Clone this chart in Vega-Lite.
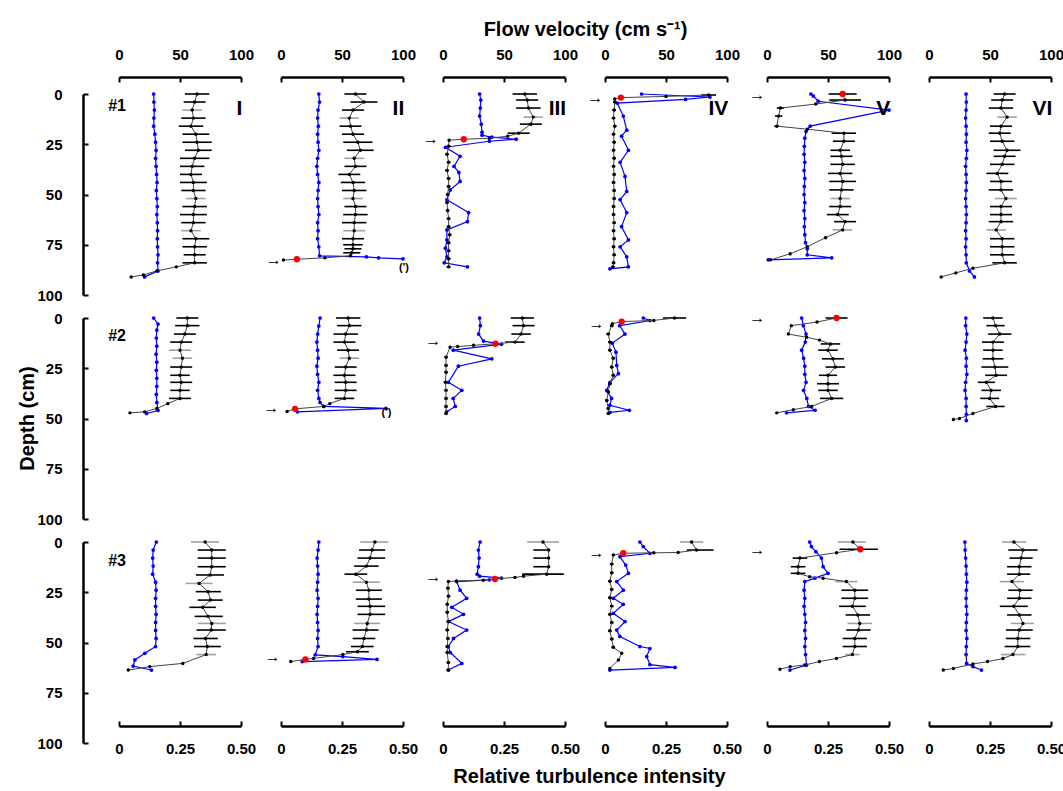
{
"$schema":"https://vega.github.io/schema/vega-lite/v6.json",
"background":"white",
"padding":{"left":17,"top":19,"right":5,"bottom":5},
"config":{"view":{"stroke":null},"font":"Liberation Sans",
 "axis":{"domainColor":"#000","domainWidth":2.5,"tickColor":"#000","tickWidth":2,"tickSize":-5,"labelFont":"Liberation Sans Narrow, Liberation Sans","labelFontWeight":"bold","labelFontSize":15,"labelColor":"#000","grid":false,"titleFont":"Liberation Sans","titleFontWeight":"bold","titleFontSize":20,"titleColor":"#000","labelFlush":false,"labelOverlap":false}},
"datasets":{
"vel":[
{"p":"11","d":0,"v":64,"lo":54,"hi":74},{"p":"11","d":4,"v":62,"lo":53,"hi":71},{"p":"11","d":8,"v":60,"lo":52,"hi":68,"g":1},{"p":"11","d":12,"v":61,"lo":51,"hi":71},{"p":"11","d":16,"v":59,"lo":49,"hi":69},{"p":"11","d":20,"v":63,"lo":52,"hi":74},{"p":"11","d":24,"v":64,"lo":52,"hi":76},{"p":"11","d":28,"v":65,"lo":54,"hi":76},{"p":"11","d":32,"v":62,"lo":50,"hi":74},{"p":"11","d":36,"v":60,"lo":50,"hi":70},{"p":"11","d":40,"v":59,"lo":50,"hi":68},{"p":"11","d":44,"v":61,"lo":50,"hi":72},{"p":"11","d":48,"v":61,"lo":51,"hi":71},{"p":"11","d":52,"v":63,"lo":55,"hi":71,"g":1},{"p":"11","d":56,"v":62,"lo":52,"hi":72},{"p":"11","d":60,"v":61,"lo":50,"hi":72},{"p":"11","d":64,"v":61,"lo":51,"hi":71},{"p":"11","d":68,"v":59,"lo":51,"hi":67,"g":1},{"p":"11","d":72,"v":63,"lo":52,"hi":74},{"p":"11","d":76,"v":62,"lo":52,"hi":72},{"p":"11","d":80,"v":62,"lo":53,"hi":71},{"p":"11","d":84,"v":62,"lo":52,"hi":72},{"p":"11","d":86,"v":47},{"p":"11","d":88,"v":31},{"p":"11","d":90,"v":20},{"p":"11","d":91,"v":10},
{"p":"12","d":0,"v":61,"lo":52,"hi":70},{"p":"12","d":4,"v":68,"lo":57,"hi":79},{"p":"12","d":8,"v":59,"lo":50,"hi":68},{"p":"12","d":12,"v":56,"lo":48,"hi":64,"g":1},{"p":"12","d":16,"v":57,"lo":48,"hi":66},{"p":"12","d":20,"v":59,"lo":50,"hi":68},{"p":"12","d":24,"v":63,"lo":51,"hi":75},{"p":"12","d":28,"v":65,"lo":54,"hi":76},{"p":"12","d":32,"v":60,"lo":52,"hi":68,"g":1},{"p":"12","d":36,"v":61,"lo":52,"hi":70},{"p":"12","d":40,"v":56,"lo":47,"hi":65},{"p":"12","d":44,"v":59,"lo":49,"hi":69},{"p":"12","d":48,"v":60,"lo":50,"hi":70},{"p":"12","d":52,"v":59,"lo":51,"hi":67,"g":1},{"p":"12","d":56,"v":61,"lo":52,"hi":70},{"p":"12","d":60,"v":61,"lo":51,"hi":71},{"p":"12","d":64,"v":60,"lo":50,"hi":70},{"p":"12","d":68,"v":60,"lo":51,"hi":69,"g":1},{"p":"12","d":72,"v":59,"lo":50,"hi":68},{"p":"12","d":75,"v":59,"lo":51,"hi":67},{"p":"12","d":77,"v":59,"lo":52,"hi":66},{"p":"12","d":79,"v":58,"lo":51,"hi":65},{"p":"12","d":80.5,"v":57},{"p":"12","d":81.5,"v":36},{"p":"12","d":82.2,"v":13,"m":"r"},{"p":"12","d":82.6,"v":2},
{"p":"13","d":0,"v":67,"lo":57,"hi":77},{"p":"13","d":3,"v":69,"lo":60,"hi":78},{"p":"13","d":7,"v":70,"lo":60,"hi":80},{"p":"13","d":11.5,"v":74,"lo":66,"hi":82,"g":1},{"p":"13","d":15,"v":72,"lo":63,"hi":81},{"p":"13","d":19.5,"v":62,"lo":53,"hi":71},{"p":"13","d":21,"v":53},{"p":"13","d":22,"v":38},{"p":"13","d":22.5,"v":17,"m":"r"},{"p":"13","d":23,"v":5},{"p":"13","d":26,"v":4.6,"lo":3,"hi":6.2},{"p":"13","d":30,"v":3.3,"lo":1.8,"hi":4.8},{"p":"13","d":34,"v":4.6,"lo":3,"hi":6.2},{"p":"13","d":38,"v":3.3,"lo":1.8,"hi":4.8},{"p":"13","d":42,"v":4.6,"lo":3,"hi":6.2},{"p":"13","d":46,"v":4.6,"lo":3,"hi":6.2},{"p":"13","d":50,"v":3.8,"lo":2.3,"hi":5.3},{"p":"13","d":54,"v":3.3,"lo":1.8,"hi":4.8},{"p":"13","d":58,"v":3.8,"lo":2.3,"hi":5.3},{"p":"13","d":62,"v":4.6,"lo":3,"hi":6.2},{"p":"13","d":66,"v":4.6,"lo":3,"hi":6.2},{"p":"13","d":70,"v":5.5,"lo":4,"hi":7},{"p":"13","d":74,"v":4.6,"lo":3,"hi":6.2},{"p":"13","d":78,"v":4.6,"lo":3,"hi":6.2},{"p":"13","d":82,"v":4.6,"lo":3,"hi":6.2},{"p":"13","d":86,"v":4.6,"lo":3,"hi":6.2},
{"p":"14","d":0.5,"v":85,"lo":79,"hi":91},{"p":"14","d":1.2,"v":50},{"p":"14","d":1.8,"v":13,"m":"r"},{"p":"14","d":2.5,"v":8},{"p":"14","d":4,"v":8,"lo":6.5,"hi":9.5},{"p":"14","d":8,"v":7.5,"lo":6,"hi":9},{"p":"14","d":12,"v":7,"lo":5.5,"hi":8.5},{"p":"14","d":16,"v":8,"lo":6.5,"hi":9.5},{"p":"14","d":20,"v":7,"lo":5.5,"hi":8.5},{"p":"14","d":24,"v":7.5,"lo":6,"hi":9},{"p":"14","d":28,"v":7,"lo":5.5,"hi":8.5},{"p":"14","d":32,"v":7.5,"lo":6,"hi":9},{"p":"14","d":36,"v":7,"lo":5.5,"hi":8.5},{"p":"14","d":40,"v":7.5,"lo":6,"hi":9},{"p":"14","d":44,"v":7,"lo":5.5,"hi":8.5},{"p":"14","d":48,"v":7.5,"lo":6,"hi":9},{"p":"14","d":52,"v":7.5,"lo":6,"hi":9},{"p":"14","d":56,"v":7,"lo":5.5,"hi":8.5},{"p":"14","d":60,"v":7,"lo":5.5,"hi":8.5},{"p":"14","d":64,"v":7.5,"lo":6,"hi":9},{"p":"14","d":68,"v":7,"lo":5.5,"hi":8.5},{"p":"14","d":72,"v":7.5,"lo":6,"hi":9},{"p":"14","d":76,"v":7,"lo":5.5,"hi":8.5},{"p":"14","d":80,"v":7.5,"lo":6,"hi":9},{"p":"14","d":84,"v":7,"lo":5.5,"hi":8.5},{"p":"14","d":86,"v":6.5,"lo":5,"hi":8},
{"p":"15","d":0,"v":62,"lo":50.5,"hi":73.5,"m":"r"},{"p":"15","d":3,"v":64,"lo":51,"hi":77},{"p":"15","d":5,"v":40},{"p":"15","d":7,"v":11,"lo":8,"hi":14},{"p":"15","d":11,"v":9.5,"lo":6.5,"hi":12.5},{"p":"15","d":16,"v":8,"lo":6,"hi":10},{"p":"15","d":17.5,"v":33},{"p":"15","d":19.5,"v":63,"lo":53,"hi":73},{"p":"15","d":23.5,"v":63,"lo":54,"hi":72},{"p":"15","d":28,"v":60,"lo":52,"hi":68},{"p":"15","d":31,"v":61,"lo":52,"hi":70},{"p":"15","d":35,"v":62,"lo":52,"hi":72},{"p":"15","d":39.5,"v":60,"lo":50,"hi":70},{"p":"15","d":43.5,"v":62,"lo":51,"hi":73},{"p":"15","d":47.7,"v":61,"lo":51,"hi":71},{"p":"15","d":52,"v":60,"lo":52,"hi":68,"g":1},{"p":"15","d":56,"v":60,"lo":51,"hi":69},{"p":"15","d":60,"v":58,"lo":49,"hi":67},{"p":"15","d":63.5,"v":64,"lo":55,"hi":73},{"p":"15","d":67.6,"v":62,"lo":54,"hi":70,"g":1},{"p":"15","d":71.5,"v":48},{"p":"15","d":76,"v":33},{"p":"15","d":79.5,"v":19},{"p":"15","d":82.5,"v":3},
{"p":"16","d":0,"v":62,"lo":53,"hi":71},{"p":"16","d":3,"v":60,"lo":51,"hi":69},{"p":"16","d":7,"v":59,"lo":49,"hi":69},{"p":"16","d":11.5,"v":64,"lo":56,"hi":72,"g":1},{"p":"16","d":16,"v":59,"lo":50,"hi":68},{"p":"16","d":19.5,"v":58,"lo":49,"hi":67},{"p":"16","d":23.5,"v":60,"lo":50,"hi":70},{"p":"16","d":28,"v":64,"lo":53,"hi":75},{"p":"16","d":31,"v":62,"lo":53,"hi":71},{"p":"16","d":35,"v":60,"lo":50,"hi":70},{"p":"16","d":39.5,"v":56,"lo":47,"hi":65},{"p":"16","d":43.5,"v":59,"lo":50,"hi":68},{"p":"16","d":47.7,"v":59,"lo":49,"hi":69},{"p":"16","d":52,"v":63,"lo":54,"hi":72,"g":1},{"p":"16","d":56,"v":59,"lo":50,"hi":68},{"p":"16","d":60,"v":59,"lo":50,"hi":68},{"p":"16","d":63.5,"v":59,"lo":49,"hi":69},{"p":"16","d":67.6,"v":55,"lo":47,"hi":63,"g":1},{"p":"16","d":72,"v":60,"lo":50,"hi":70},{"p":"16","d":76,"v":60,"lo":50,"hi":70},{"p":"16","d":80,"v":60,"lo":50,"hi":70},{"p":"16","d":84,"v":62,"lo":52,"hi":72},{"p":"16","d":86.7,"v":36},{"p":"16","d":89,"v":22},{"p":"16","d":91,"v":10},
{"p":"21","d":0,"v":56,"lo":47,"hi":65},{"p":"21","d":3.8,"v":56,"lo":46,"hi":66},{"p":"21","d":8,"v":54,"lo":45,"hi":63},{"p":"21","d":12,"v":51,"lo":42,"hi":60},{"p":"21","d":16,"v":50,"lo":41,"hi":59,"g":1},{"p":"21","d":20,"v":52,"lo":44,"hi":60,"g":1},{"p":"21","d":24.4,"v":51,"lo":42,"hi":60},{"p":"21","d":28.5,"v":50,"lo":42,"hi":58},{"p":"21","d":32,"v":51,"lo":42,"hi":60},{"p":"21","d":36,"v":50,"lo":42,"hi":58},{"p":"21","d":40,"v":50,"lo":41,"hi":59},{"p":"21","d":42.6,"v":40},{"p":"21","d":45,"v":31},{"p":"21","d":46.7,"v":21},{"p":"21","d":47.2,"v":9},
{"p":"22","d":0,"v":55,"lo":45,"hi":65},{"p":"22","d":3.8,"v":56,"lo":46,"hi":66},{"p":"22","d":8,"v":53,"lo":43,"hi":63},{"p":"22","d":12,"v":52,"lo":43,"hi":61},{"p":"22","d":16,"v":55,"lo":46,"hi":64},{"p":"22","d":20,"v":56,"lo":48,"hi":64,"g":1},{"p":"22","d":24.4,"v":53,"lo":44,"hi":62},{"p":"22","d":28.5,"v":52,"lo":43,"hi":61},{"p":"22","d":32,"v":53,"lo":44,"hi":62},{"p":"22","d":36,"v":53,"lo":44,"hi":62},{"p":"22","d":40,"v":52,"lo":44,"hi":60},{"p":"22","d":42.6,"v":40},{"p":"22","d":44,"v":35},{"p":"22","d":45.2,"v":11.5,"m":"r"},{"p":"22","d":46.5,"v":5},
{"p":"23","d":0,"v":65,"lo":55.5,"hi":74.5},{"p":"23","d":3.8,"v":66,"lo":57,"hi":75},{"p":"23","d":8,"v":64,"lo":56,"hi":72},{"p":"23","d":12,"v":59,"lo":51,"hi":67},{"p":"23","d":12.8,"v":43,"m":"r"},{"p":"23","d":13.6,"v":25},{"p":"23","d":14.2,"v":12},{"p":"23","d":14.5,"v":5.8},{"p":"23","d":19.5,"v":2.5,"lo":1,"hi":4},{"p":"23","d":23.6,"v":2.5,"lo":1,"hi":4},{"p":"23","d":27,"v":2.5,"lo":1,"hi":4},{"p":"23","d":32,"v":2,"lo":0.5,"hi":3.5},{"p":"23","d":36,"v":2.5,"lo":1,"hi":4},{"p":"23","d":40,"v":2.5,"lo":1,"hi":4},{"p":"23","d":44,"v":2.5,"lo":1,"hi":4},{"p":"23","d":47.5,"v":2.5,"lo":1,"hi":4},
{"p":"24","d":0,"v":57,"lo":47.5,"hi":66.5},{"p":"24","d":1.2,"v":40},{"p":"24","d":1.8,"v":13.7,"m":"r"},{"p":"24","d":2.8,"v":6},{"p":"24","d":3.8,"v":5.5,"lo":4,"hi":7},{"p":"24","d":8,"v":2.7,"lo":1.2,"hi":4.2},{"p":"24","d":12,"v":4,"lo":2.5,"hi":5.5},{"p":"24","d":16,"v":4,"lo":2.5,"hi":5.5},{"p":"24","d":20,"v":6.8,"lo":5.3,"hi":8.3},{"p":"24","d":24.4,"v":5.5,"lo":4,"hi":7},{"p":"24","d":28.5,"v":6.8,"lo":5.3,"hi":8.3},{"p":"24","d":32.7,"v":4,"lo":2.5,"hi":5.5},{"p":"24","d":36.8,"v":2.7,"lo":1.2,"hi":4.2},{"p":"24","d":41,"v":1.4,"lo":0,"hi":2.9},{"p":"24","d":45,"v":2.7,"lo":1.2,"hi":4.2},{"p":"24","d":47.5,"v":2.7,"lo":1.2,"hi":4.2},
{"p":"25","d":0,"v":57,"lo":48,"hi":66,"m":"r"},{"p":"25","d":2,"v":41},{"p":"25","d":3.8,"v":20},{"p":"25","d":8,"v":17.5},{"p":"25","d":9.6,"v":32.5},{"p":"25","d":11,"v":43},{"p":"25","d":12.9,"v":52,"lo":44,"hi":60},{"p":"25","d":16,"v":50,"lo":42,"hi":58},{"p":"25","d":20.3,"v":54,"lo":45,"hi":63},{"p":"25","d":24.4,"v":56,"lo":48,"hi":64},{"p":"25","d":28.5,"v":50,"lo":42.5,"hi":57.5},{"p":"25","d":32.7,"v":50,"lo":41,"hi":59},{"p":"25","d":36,"v":50,"lo":42,"hi":58},{"p":"25","d":40,"v":53,"lo":43.5,"hi":62.5},{"p":"25","d":44,"v":36.6},{"p":"25","d":45.6,"v":21.6},{"p":"25","d":47.2,"v":8},
{"p":"26","d":0,"v":52.4,"lo":44.4,"hi":60.4},{"p":"26","d":3.8,"v":54.6,"lo":47,"hi":62},{"p":"26","d":8,"v":58,"lo":48.5,"hi":67.5},{"p":"26","d":12,"v":52.4,"lo":43.4,"hi":61.4},{"p":"26","d":16,"v":52.4,"lo":44.4,"hi":60.4},{"p":"26","d":20.3,"v":52.4,"lo":44,"hi":61},{"p":"26","d":24.4,"v":54,"lo":43,"hi":65},{"p":"26","d":28.5,"v":55,"lo":46,"hi":64},{"p":"26","d":32,"v":47,"lo":40,"hi":54},{"p":"26","d":36,"v":51,"lo":43,"hi":59},{"p":"26","d":40,"v":49.7,"lo":42,"hi":57.5},{"p":"26","d":44,"v":54.6,"lo":47,"hi":62},{"p":"26","d":47.5,"v":36},{"p":"26","d":50,"v":25},{"p":"26","d":50.5,"v":20},
{"p":"31","d":0,"v":70.6,"lo":59,"hi":82,"g":1},{"p":"31","d":4,"v":76,"lo":64.5,"hi":87.5},{"p":"31","d":8,"v":76,"lo":64.5,"hi":87.5},{"p":"31","d":12.3,"v":76,"lo":64.5,"hi":87.5},{"p":"31","d":16.4,"v":74.7,"lo":63,"hi":86},{"p":"31","d":20.6,"v":65.6,"lo":54.5,"hi":76.7,"g":1},{"p":"31","d":24.7,"v":73,"lo":63,"hi":83.5},{"p":"31","d":28.9,"v":75,"lo":64.5,"hi":85},{"p":"31","d":32.5,"v":68.6,"lo":57.7,"hi":79.4},{"p":"31","d":37,"v":73,"lo":62,"hi":85},{"p":"31","d":40.5,"v":76,"lo":64.5,"hi":87.5,"g":1},{"p":"31","d":43.8,"v":75.6,"lo":63.5,"hi":87.5},{"p":"31","d":48,"v":71,"lo":61,"hi":81},{"p":"31","d":52,"v":72.4,"lo":61.5,"hi":83.5},{"p":"31","d":56,"v":71.5,"lo":63.5,"hi":79.5,"g":1},{"p":"31","d":60.4,"v":52.3},{"p":"31","d":62,"v":25.2},{"p":"31","d":63.7,"v":7.6},
{"p":"32","d":0,"v":77,"lo":65,"hi":88,"g":1},{"p":"32","d":4,"v":74.7,"lo":64,"hi":85.4},{"p":"32","d":8,"v":73,"lo":62.7,"hi":85.4},{"p":"32","d":12,"v":70,"lo":60,"hi":80},{"p":"32","d":16,"v":61.3,"lo":52,"hi":70.7},{"p":"32","d":20,"v":70,"lo":58.7,"hi":81,"g":1},{"p":"32","d":24,"v":72,"lo":61.3,"hi":82.7},{"p":"32","d":28.4,"v":72,"lo":61.3,"hi":82.7},{"p":"32","d":32,"v":73,"lo":62.7,"hi":85.4},{"p":"32","d":36,"v":73,"lo":62.7,"hi":85.4},{"p":"32","d":40.5,"v":70.7,"lo":60,"hi":81.3,"g":1},{"p":"32","d":43.8,"v":70,"lo":58.7,"hi":80},{"p":"32","d":48,"v":68,"lo":58.7,"hi":77.3},{"p":"32","d":52,"v":66.7,"lo":57.3,"hi":76},{"p":"32","d":54.6,"v":62.7,"lo":53.3,"hi":72},{"p":"32","d":56,"v":50.7},{"p":"32","d":57.9,"v":26.7},{"p":"32","d":58.4,"v":20,"m":"r"},{"p":"32","d":59.5,"v":8},
{"p":"33","d":0,"v":82,"lo":69,"hi":95,"g":1},{"p":"33","d":4,"v":86.6,"lo":74,"hi":86.6},{"p":"33","d":8,"v":86.6,"lo":74,"hi":86.6},{"p":"33","d":12.3,"v":86.6,"lo":74,"hi":86.6},{"p":"33","d":16,"v":85,"lo":65,"hi":99},{"p":"33","d":17,"v":66},{"p":"33","d":17.6,"v":59},{"p":"33","d":18.4,"v":42.6,"m":"r"},{"p":"33","d":19,"v":33},{"p":"33","d":19.4,"v":11},{"p":"33","d":19.7,"v":4.4},{"p":"33","d":23,"v":4,"lo":2.5,"hi":5.5},{"p":"33","d":27,"v":4.5,"lo":3,"hi":6},{"p":"33","d":31,"v":3.5,"lo":2,"hi":5},{"p":"33","d":35,"v":3.5,"lo":2,"hi":5},{"p":"33","d":39.6,"v":4.4,"lo":2.9,"hi":5.9},{"p":"33","d":43.8,"v":3.5,"lo":2,"hi":5},{"p":"33","d":48,"v":4,"lo":2.5,"hi":5.5},{"p":"33","d":52,"v":3.5,"lo":2,"hi":5},{"p":"33","d":55,"v":3.5,"lo":2,"hi":5},{"p":"33","d":60,"v":4.4,"lo":2.9,"hi":5.9},{"p":"33","d":63.7,"v":4.4,"lo":2.9,"hi":5.9},
{"p":"34","d":0,"v":71,"lo":61.5,"hi":80.5,"g":1},{"p":"34","d":4,"v":75,"lo":67,"hi":89},{"p":"34","d":5.2,"v":60},{"p":"34","d":5.4,"v":40},{"p":"34","d":5.6,"v":15,"m":"r"},{"p":"34","d":6.5,"v":6.8},{"p":"34","d":11,"v":5.5,"lo":4,"hi":7},{"p":"34","d":15.3,"v":5.5,"lo":4,"hi":7},{"p":"34","d":19.5,"v":4,"lo":2.5,"hi":5.5},{"p":"34","d":23.6,"v":5.5,"lo":4,"hi":7},{"p":"34","d":27.7,"v":4,"lo":2.5,"hi":5.5},{"p":"34","d":31.9,"v":5.5,"lo":4,"hi":7},{"p":"34","d":36,"v":4,"lo":2.5,"hi":5.5},{"p":"34","d":40,"v":5.5,"lo":4,"hi":7},{"p":"34","d":44.2,"v":4,"lo":2.5,"hi":5.5},{"p":"34","d":48.3,"v":5.5,"lo":4,"hi":7},{"p":"34","d":52.4,"v":6.8,"lo":5.3,"hi":8.3},{"p":"34","d":55.4,"v":13.7},{"p":"34","d":58.7,"v":11},{"p":"34","d":62.9,"v":4},
{"p":"35","d":0,"v":70.4,"lo":58,"hi":81,"g":1},{"p":"35","d":3.6,"v":76.4,"lo":59.5,"hi":91,"m":"r"},{"p":"35","d":5.3,"v":57},{"p":"35","d":8,"v":27,"lo":21,"hi":33},{"p":"35","d":12.3,"v":25.5,"lo":19.5,"hi":31.5},{"p":"35","d":15.6,"v":25.5,"lo":19.5,"hi":31.5},{"p":"35","d":17.3,"v":35},{"p":"35","d":18,"v":46},{"p":"35","d":19.7,"v":65,"lo":56,"hi":74,"g":1},{"p":"35","d":24,"v":72,"lo":61,"hi":83},{"p":"35","d":28,"v":72,"lo":61,"hi":83},{"p":"35","d":32,"v":70,"lo":59,"hi":81},{"p":"35","d":36.3,"v":74.5,"lo":64.5,"hi":84.5},{"p":"35","d":40.5,"v":76,"lo":66,"hi":86,"g":1},{"p":"35","d":43.8,"v":75,"lo":65,"hi":85},{"p":"35","d":48,"v":72,"lo":62,"hi":82},{"p":"35","d":52,"v":72,"lo":62,"hi":82},{"p":"35","d":56,"v":70,"lo":64,"hi":76,"g":1},{"p":"35","d":57.9,"v":57},{"p":"35","d":59.5,"v":43},{"p":"35","d":61.2,"v":31},{"p":"35","d":62,"v":19},{"p":"35","d":63.3,"v":10.6},
{"p":"36","d":0,"v":69.6,"lo":59.6,"hi":79.6,"g":1},{"p":"36","d":4,"v":77,"lo":65,"hi":89},{"p":"36","d":8,"v":75.5,"lo":66,"hi":85},{"p":"36","d":12.3,"v":74,"lo":64,"hi":84},{"p":"36","d":16,"v":74,"lo":64,"hi":83},{"p":"36","d":19.7,"v":68,"lo":58,"hi":78,"g":1},{"p":"36","d":24,"v":74.5,"lo":65,"hi":85},{"p":"36","d":28,"v":74,"lo":64,"hi":84},{"p":"36","d":32,"v":69.5,"lo":58,"hi":81},{"p":"36","d":36.3,"v":74,"lo":64,"hi":84},{"p":"36","d":40.5,"v":77,"lo":67,"hi":86,"g":1},{"p":"36","d":43.8,"v":74,"lo":63,"hi":85},{"p":"36","d":48,"v":72.8,"lo":63,"hi":83},{"p":"36","d":52,"v":72.8,"lo":62,"hi":83},{"p":"36","d":56,"v":68.8,"lo":59,"hi":79,"g":1},{"p":"36","d":58,"v":60.6},{"p":"36","d":59.5,"v":48},{"p":"36","d":60.7,"v":36},{"p":"36","d":62.9,"v":20},{"p":"36","d":63.7,"v":11.7}
],
"tur":[
{"p":"11","d":0,"t":0.142},{"p":"11","d":4,"t":0.143},{"p":"11","d":8,"t":0.145},{"p":"11","d":12,"t":0.143},{"p":"11","d":16,"t":0.142},{"p":"11","d":20,"t":0.147},{"p":"11","d":24,"t":0.15},{"p":"11","d":28,"t":0.152},{"p":"11","d":32,"t":0.15},{"p":"11","d":36,"t":0.152},{"p":"11","d":40,"t":0.154},{"p":"11","d":44,"t":0.156},{"p":"11","d":48,"t":0.153},{"p":"11","d":52,"t":0.155},{"p":"11","d":56,"t":0.157},{"p":"11","d":60,"t":0.155},{"p":"11","d":64,"t":0.157},{"p":"11","d":68,"t":0.158},{"p":"11","d":72,"t":0.157},{"p":"11","d":76,"t":0.158},{"p":"11","d":80,"t":0.16},{"p":"11","d":84,"t":0.158},{"p":"11","d":88,"t":0.16},{"p":"11","d":91,"t":0.105},
{"p":"12","d":0,"t":0.155},{"p":"12","d":4,"t":0.158},{"p":"12","d":8,"t":0.152},{"p":"12","d":12,"t":0.15},{"p":"12","d":16,"t":0.153},{"p":"12","d":20,"t":0.15},{"p":"12","d":24,"t":0.152},{"p":"12","d":28,"t":0.155},{"p":"12","d":32,"t":0.15},{"p":"12","d":36,"t":0.147},{"p":"12","d":40,"t":0.15},{"p":"12","d":44,"t":0.155},{"p":"12","d":48,"t":0.152},{"p":"12","d":52,"t":0.15},{"p":"12","d":56,"t":0.152},{"p":"12","d":60,"t":0.155},{"p":"12","d":64,"t":0.15},{"p":"12","d":68,"t":0.152},{"p":"12","d":72,"t":0.15},{"p":"12","d":76,"t":0.155},{"p":"12","d":80.5,"t":0.158},{"p":"12","d":81,"t":0.35},{"p":"12","d":81.5,"t":0.4},{"p":"12","d":82,"t":0.5},
{"p":"13","d":0,"t":0.15},{"p":"13","d":3,"t":0.155},{"p":"13","d":7,"t":0.153},{"p":"13","d":11,"t":0.15},{"p":"13","d":15,"t":0.157},{"p":"13","d":19,"t":0.16},{"p":"13","d":20.5,"t":0.16},{"p":"13","d":21.5,"t":0.2},{"p":"13","d":22.5,"t":0.3},{"p":"13","d":23.5,"t":0.19},{"p":"13","d":26.5,"t":0.01},{"p":"13","d":31,"t":0.07},{"p":"13","d":36,"t":0.045},{"p":"13","d":39,"t":0.065},{"p":"13","d":43.5,"t":0.07},{"p":"13","d":47.7,"t":0.03},{"p":"13","d":52.6,"t":0.016},{"p":"13","d":59,"t":0.105},{"p":"13","d":63.5,"t":0.1},{"p":"13","d":67.6,"t":0.016},{"p":"13","d":72.6,"t":0.016},{"p":"13","d":76.7,"t":0.01},{"p":"13","d":81,"t":0.016},{"p":"13","d":84,"t":0.005},{"p":"13","d":86,"t":0.1},
{"p":"14","d":0,"t":0.15},{"p":"14","d":1.5,"t":0.43},{"p":"14","d":2.7,"t":0.33},{"p":"14","d":4.5,"t":0.05},{"p":"14","d":11,"t":0.075},{"p":"14","d":18,"t":0.089},{"p":"14","d":21,"t":0.068},{"p":"14","d":28,"t":0.096},{"p":"14","d":34,"t":0.062},{"p":"14","d":41,"t":0.082},{"p":"14","d":48.5,"t":0.089},{"p":"14","d":52.6,"t":0.062},{"p":"14","d":59,"t":0.089},{"p":"14","d":66,"t":0.068},{"p":"14","d":72.6,"t":0.096},{"p":"14","d":76,"t":0.062},{"p":"14","d":81,"t":0.089},{"p":"14","d":86,"t":0.096},{"p":"14","d":87,"t":0.02},
{"p":"15","d":0,"t":0.18},{"p":"15","d":1,"t":0.19},{"p":"15","d":3.6,"t":0.21},{"p":"15","d":8,"t":0.5},{"p":"15","d":16,"t":0.177},{"p":"15","d":18.7,"t":0.16},{"p":"15","d":22,"t":0.155},{"p":"15","d":26,"t":0.153},{"p":"15","d":30,"t":0.152},{"p":"15","d":34,"t":0.155},{"p":"15","d":38,"t":0.152},{"p":"15","d":42,"t":0.155},{"p":"15","d":46,"t":0.153},{"p":"15","d":50,"t":0.152},{"p":"15","d":54,"t":0.155},{"p":"15","d":58,"t":0.152},{"p":"15","d":62,"t":0.155},{"p":"15","d":66,"t":0.153},{"p":"15","d":70,"t":0.155},{"p":"15","d":74,"t":0.158},{"p":"15","d":77,"t":0.165},{"p":"15","d":80,"t":0.165},{"p":"15","d":81.5,"t":0.265},{"p":"15","d":82.5,"t":0.005},
{"p":"16","d":0,"t":0.152},{"p":"16","d":4,"t":0.153},{"p":"16","d":8,"t":0.152},{"p":"16","d":12,"t":0.15},{"p":"16","d":16,"t":0.152},{"p":"16","d":20,"t":0.153},{"p":"16","d":24,"t":0.152},{"p":"16","d":28,"t":0.155},{"p":"16","d":32,"t":0.153},{"p":"16","d":36,"t":0.15},{"p":"16","d":40,"t":0.152},{"p":"16","d":44,"t":0.153},{"p":"16","d":48,"t":0.152},{"p":"16","d":52,"t":0.15},{"p":"16","d":56,"t":0.152},{"p":"16","d":60,"t":0.153},{"p":"16","d":64,"t":0.152},{"p":"16","d":68,"t":0.15},{"p":"16","d":72,"t":0.152},{"p":"16","d":76,"t":0.15},{"p":"16","d":80,"t":0.152},{"p":"16","d":84,"t":0.153},{"p":"16","d":88,"t":0.166},{"p":"16","d":91,"t":0.186},
{"p":"21","d":0,"t":0.142},{"p":"21","d":3,"t":0.16},{"p":"21","d":6,"t":0.155},{"p":"21","d":10,"t":0.153},{"p":"21","d":14,"t":0.155},{"p":"21","d":18,"t":0.152},{"p":"21","d":22,"t":0.155},{"p":"21","d":26,"t":0.153},{"p":"21","d":30,"t":0.155},{"p":"21","d":34,"t":0.155},{"p":"21","d":38,"t":0.153},{"p":"21","d":42,"t":0.155},{"p":"21","d":46,"t":0.16},{"p":"21","d":47.5,"t":0.113},
{"p":"22","d":0,"t":0.16},{"p":"22","d":4,"t":0.155},{"p":"22","d":8,"t":0.15},{"p":"22","d":12,"t":0.147},{"p":"22","d":16,"t":0.15},{"p":"22","d":20,"t":0.152},{"p":"22","d":24,"t":0.147},{"p":"22","d":28,"t":0.15},{"p":"22","d":32,"t":0.155},{"p":"22","d":36,"t":0.15},{"p":"22","d":40,"t":0.155},{"p":"22","d":42,"t":0.16},{"p":"22","d":44,"t":0.175},{"p":"22","d":45,"t":0.43},{"p":"22","d":46.7,"t":0.067},
{"p":"23","d":0,"t":0.15},{"p":"23","d":3.8,"t":0.153},{"p":"23","d":8,"t":0.146},{"p":"23","d":11.5,"t":0.166},{"p":"23","d":13,"t":0.24},{"p":"23","d":16,"t":0.042},{"p":"23","d":20.3,"t":0.2},{"p":"23","d":24,"t":0.063},{"p":"23","d":32,"t":0.022},{"p":"23","d":36,"t":0.077},{"p":"23","d":40,"t":0.042},{"p":"23","d":44,"t":0.05},{"p":"23","d":46.7,"t":0.015},
{"p":"24","d":0,"t":0.157},{"p":"24","d":1.3,"t":0.184},{"p":"24","d":3.8,"t":0.06},{"p":"24","d":8,"t":0.082},{"p":"24","d":12.5,"t":0.03},{"p":"24","d":17,"t":0.045},{"p":"24","d":23.6,"t":0.048},{"p":"24","d":27.7,"t":0.055},{"p":"24","d":32,"t":0.02},{"p":"24","d":36,"t":0.007},{"p":"24","d":40,"t":0.027},{"p":"24","d":43.4,"t":0.02},{"p":"24","d":45.9,"t":0.1},{"p":"24","d":47,"t":0.02},
{"p":"25","d":0,"t":0.142},{"p":"25","d":3.8,"t":0.149},{"p":"25","d":8,"t":0.16},{"p":"25","d":12,"t":0.157},{"p":"25","d":16,"t":0.142},{"p":"25","d":20,"t":0.15},{"p":"25","d":24,"t":0.155},{"p":"25","d":28,"t":0.155},{"p":"25","d":32,"t":0.16},{"p":"25","d":36,"t":0.15},{"p":"25","d":40,"t":0.163},{"p":"25","d":44,"t":0.17},{"p":"25","d":45.9,"t":0.197},{"p":"25","d":47.2,"t":0.08},
{"p":"26","d":0,"t":0.151},{"p":"26","d":3.8,"t":0.15},{"p":"26","d":8,"t":0.155},{"p":"26","d":12,"t":0.152},{"p":"26","d":16,"t":0.148},{"p":"26","d":20,"t":0.153},{"p":"26","d":24,"t":0.152},{"p":"26","d":28,"t":0.155},{"p":"26","d":32,"t":0.15},{"p":"26","d":36,"t":0.148},{"p":"26","d":40,"t":0.152},{"p":"26","d":44,"t":0.152},{"p":"26","d":48,"t":0.153},{"p":"26","d":51,"t":0.153},
{"p":"31","d":0,"t":0.153},{"p":"31","d":4,"t":0.14},{"p":"31","d":8,"t":0.138},{"p":"31","d":12,"t":0.14},{"p":"31","d":16,"t":0.138},{"p":"31","d":20,"t":0.15},{"p":"31","d":24,"t":0.152},{"p":"31","d":28,"t":0.15},{"p":"31","d":32,"t":0.15},{"p":"31","d":36,"t":0.152},{"p":"31","d":40,"t":0.15},{"p":"31","d":44,"t":0.15},{"p":"31","d":48,"t":0.152},{"p":"31","d":52,"t":0.15},{"p":"31","d":55.4,"t":0.106},{"p":"31","d":58.7,"t":0.065},{"p":"31","d":61.7,"t":0.058},{"p":"31","d":63.7,"t":0.133},
{"p":"32","d":0,"t":0.155},{"p":"32","d":4,"t":0.152},{"p":"32","d":8,"t":0.148},{"p":"32","d":12,"t":0.15},{"p":"32","d":16,"t":0.152},{"p":"32","d":20,"t":0.15},{"p":"32","d":24,"t":0.148},{"p":"32","d":28,"t":0.152},{"p":"32","d":32,"t":0.15},{"p":"32","d":36,"t":0.148},{"p":"32","d":40,"t":0.15},{"p":"32","d":44,"t":0.152},{"p":"32","d":48,"t":0.15},{"p":"32","d":52,"t":0.152},{"p":"32","d":56.2,"t":0.14},{"p":"32","d":57,"t":0.253},{"p":"32","d":58.4,"t":0.393},{"p":"32","d":59.5,"t":0.087},
{"p":"33","d":0,"t":0.152},{"p":"33","d":4,"t":0.145},{"p":"33","d":8,"t":0.148},{"p":"33","d":12.3,"t":0.145},{"p":"33","d":16,"t":0.14},{"p":"33","d":17,"t":0.15},{"p":"33","d":18,"t":0.24},{"p":"33","d":18.8,"t":0.19},{"p":"33","d":19.7,"t":0.056},{"p":"33","d":24,"t":0.07},{"p":"33","d":28,"t":0.097},{"p":"33","d":32.5,"t":0.036},{"p":"33","d":36,"t":0.084},{"p":"33","d":39.6,"t":0.022},{"p":"33","d":43.8,"t":0.097},{"p":"33","d":48,"t":0.043},{"p":"33","d":52,"t":0.022},{"p":"33","d":55,"t":0.03},{"p":"33","d":60.4,"t":0.077},{"p":"33","d":63.7,"t":0.022},
{"p":"34","d":0,"t":0.143},{"p":"34","d":2.3,"t":0.157},{"p":"34","d":5.6,"t":0.184},{"p":"34","d":7.3,"t":0.061},{"p":"34","d":11.5,"t":0.085},{"p":"34","d":15.6,"t":0.096},{"p":"34","d":19.7,"t":0.048},{"p":"34","d":24,"t":0.075},{"p":"34","d":28,"t":0.034},{"p":"34","d":31,"t":0.075},{"p":"34","d":35.5,"t":0.034},{"p":"34","d":39.6,"t":0.082},{"p":"34","d":43.8,"t":0.048},{"p":"34","d":47,"t":0.061},{"p":"34","d":52,"t":0.143},{"p":"34","d":53,"t":0.184},{"p":"34","d":57,"t":0.171},{"p":"34","d":61,"t":0.184},{"p":"34","d":62.4,"t":0.287},{"p":"34","d":63.7,"t":0.02},
{"p":"35","d":0,"t":0.175},{"p":"35","d":2.3,"t":0.182},{"p":"35","d":4.8,"t":0.2},{"p":"35","d":8,"t":0.223},{"p":"35","d":12.3,"t":0.23},{"p":"35","d":15.6,"t":0.25},{"p":"35","d":18,"t":0.196},{"p":"35","d":19.7,"t":0.155},{"p":"35","d":24,"t":0.152},{"p":"35","d":28,"t":0.155},{"p":"35","d":32,"t":0.152},{"p":"35","d":36,"t":0.155},{"p":"35","d":40,"t":0.158},{"p":"35","d":44,"t":0.155},{"p":"35","d":48,"t":0.158},{"p":"35","d":52,"t":0.155},{"p":"35","d":56,"t":0.158},{"p":"35","d":61.2,"t":0.162},{"p":"35","d":63.7,"t":0.094},
{"p":"36","d":0,"t":0.147},{"p":"36","d":4,"t":0.148},{"p":"36","d":8,"t":0.15},{"p":"36","d":12,"t":0.152},{"p":"36","d":16,"t":0.153},{"p":"36","d":20,"t":0.155},{"p":"36","d":24,"t":0.153},{"p":"36","d":28,"t":0.152},{"p":"36","d":32,"t":0.153},{"p":"36","d":36,"t":0.155},{"p":"36","d":40,"t":0.153},{"p":"36","d":44,"t":0.152},{"p":"36","d":48,"t":0.155},{"p":"36","d":52,"t":0.153},{"p":"36","d":56,"t":0.152},{"p":"36","d":60.4,"t":0.154},{"p":"36","d":62,"t":0.18},{"p":"36","d":63.7,"t":0.215}
],
"arr":[
{"p":"12","d":82.5,"v":-6},{"p":"13","d":22.4,"v":-10},{"p":"14","d":2,"v":-8},{"p":"15","d":0.5,"v":-8},
{"p":"22","d":45,"v":-8},{"p":"23","d":11.6,"v":-8},{"p":"24","d":2.8,"v":-7},{"p":"25","d":0,"v":-8},
{"p":"32","d":57,"v":-7},{"p":"33","d":17.4,"v":-8},{"p":"34","d":5.5,"v":-7},{"p":"35","d":4,"v":-8}
],
"lab":[
{"p":"11","d":8.5,"v":-1.6,"s":"#1","k":"h"},{"p":"21","d":11.5,"v":-1.6,"s":"#2","k":"h"},{"p":"31","d":12,"v":-1.6,"s":"#3","k":"h"},
{"p":"11","d":10.4,"v":101,"s":"I","k":"n"},{"p":"12","d":10.4,"v":101,"s":"II","k":"n"},{"p":"13","d":10.4,"v":101,"s":"III","k":"n"},{"p":"14","d":10.4,"v":101,"s":"IV","k":"n"},{"p":"15","d":10.4,"v":101,"s":"V","k":"n"},{"p":"16","d":10.4,"v":101,"s":"VI","k":"n"},
{"p":"12","d":86.5,"v":100.8,"s":"(')","k":"q"},{"p":"22","d":47.5,"v":86.5,"s":"(')","k":"q"}
]
},
"columns":6,
"spacing":{"row":23,"column":40},
"bounds":"flush",
"concat":[
{"width":122,"height":201,"encoding":{"y":{"field":"d","type":"quantitative","scale":{"domain":[0,100],"reverse":true,"nice":false},"axis":{"values":[0,25,50,75,100],"offset":36,"labelPadding":26,"title":null}}},
 "layer":[
  {"data":{"name":"tur"},"transform":[{"filter":"datum.p=='11'"}],"mark":{"type":"line","color":"#0000ff","strokeWidth":1.2,"point":{"filled":true,"size":14,"color":"#0000ff","opacity":1}},"encoding":{"x":{"field":"t","type":"quantitative","scale":{"domain":[0,0.5],"nice":false},"axis":null},"order":{"field":"d","type":"quantitative"}}},
  {"data":{"name":"vel"},"transform":[{"filter":"datum.p=='11' && isValid(datum.lo)"}],"mark":{"type":"rule","strokeWidth":1.6},"encoding":{"x":{"field":"lo","type":"quantitative","scale":{"domain":[0,100],"nice":false},"axis":null},"x2":{"field":"hi"},"color":{"condition":{"test":"datum.g==1","value":"#a0a0a0"},"value":"#000000"}}},
  {"data":{"name":"vel"},"transform":[{"filter":"datum.p=='11'"}],"mark":{"type":"line","color":"#444444","strokeWidth":1},"encoding":{"x":{"field":"v","type":"quantitative","scale":{"domain":[0,100],"nice":false},"axis":{"orient":"top","values":[0,50,100],"offset":17,"labelPadding":20,"title":null}},"order":{"field":"d","type":"quantitative"}}},
  {"data":{"name":"vel"},"transform":[{"filter":"datum.p=='11'"}],"mark":{"type":"point","filled":true,"opacity":1},"encoding":{"x":{"field":"v","type":"quantitative","scale":{"domain":[0,100],"nice":false},"axis":null},"color":{"condition":{"test":"datum.m=='r'","value":"#ff0000"},"value":"#000000"},"size":{"condition":{"test":"datum.m=='r'","value":40},"value":12}}},
  {"data":{"name":"lab"},"transform":[{"filter":"datum.p=='11' && datum.k=='h'"}],"mark":{"type":"text","align":"center","baseline":"alphabetic","fontSize":16,"fontWeight":"bold","color":"#000"},"encoding":{"x":{"field":"v","type":"quantitative","scale":{"domain":[0,100],"nice":false},"axis":null},"text":{"field":"s"}}},
  {"data":{"name":"lab"},"transform":[{"filter":"datum.p=='11' && datum.k=='n'"}],"mark":{"type":"text","align":"right","baseline":"alphabetic","fontSize":21,"fontWeight":"bold","color":"#000"},"encoding":{"x":{"field":"v","type":"quantitative","scale":{"domain":[0,100],"nice":false},"axis":null},"text":{"field":"s"}}}
 ],"resolve":{"scale":{"x":"independent"}}},
{"width":122,"height":201,"encoding":{"y":{"field":"d","type":"quantitative","scale":{"domain":[0,100],"reverse":true,"nice":false},"axis":null}},
 "layer":[
  {"data":{"name":"tur"},"transform":[{"filter":"datum.p=='12'"}],"mark":{"type":"line","color":"#0000ff","strokeWidth":1.2,"point":{"filled":true,"size":14,"color":"#0000ff","opacity":1}},"encoding":{"x":{"field":"t","type":"quantitative","scale":{"domain":[0,0.5],"nice":false},"axis":null},"order":{"field":"d","type":"quantitative"}}},
  {"data":{"name":"vel"},"transform":[{"filter":"datum.p=='12' && isValid(datum.lo)"}],"mark":{"type":"rule","strokeWidth":1.6},"encoding":{"x":{"field":"lo","type":"quantitative","scale":{"domain":[0,100],"nice":false},"axis":null},"x2":{"field":"hi"},"color":{"condition":{"test":"datum.g==1","value":"#a0a0a0"},"value":"#000000"}}},
  {"data":{"name":"vel"},"transform":[{"filter":"datum.p=='12'"}],"mark":{"type":"line","color":"#444444","strokeWidth":1},"encoding":{"x":{"field":"v","type":"quantitative","scale":{"domain":[0,100],"nice":false},"axis":{"orient":"top","values":[0,50,100],"offset":17,"labelPadding":20,"title":null}},"order":{"field":"d","type":"quantitative"}}},
  {"data":{"name":"vel"},"transform":[{"filter":"datum.p=='12'"}],"mark":{"type":"point","filled":true,"opacity":1},"encoding":{"x":{"field":"v","type":"quantitative","scale":{"domain":[0,100],"nice":false},"axis":null},"color":{"condition":{"test":"datum.m=='r'","value":"#ff0000"},"value":"#000000"},"size":{"condition":{"test":"datum.m=='r'","value":40},"value":12}}},
  {"data":{"name":"arr"},"transform":[{"filter":"datum.p=='12'"}],"mark":{"type":"text","text":"→","fontSize":16,"fontWeight":"bold","color":"#000"},"encoding":{"x":{"field":"v","type":"quantitative","scale":{"domain":[0,100],"nice":false},"axis":null}}},
  {"data":{"name":"lab"},"transform":[{"filter":"datum.p=='12' && datum.k=='q'"}],"mark":{"type":"text","align":"center","baseline":"middle","fontSize":11,"fontWeight":"bold","color":"#000"},"encoding":{"x":{"field":"v","type":"quantitative","scale":{"domain":[0,100],"nice":false},"axis":null},"text":{"field":"s"}}},
  {"data":{"name":"lab"},"transform":[{"filter":"datum.p=='12' && datum.k=='n'"}],"mark":{"type":"text","align":"right","baseline":"alphabetic","fontSize":21,"fontWeight":"bold","color":"#000"},"encoding":{"x":{"field":"v","type":"quantitative","scale":{"domain":[0,100],"nice":false},"axis":null},"text":{"field":"s"}}}
 ],"resolve":{"scale":{"x":"independent"}}},
{"width":122,"height":201,"encoding":{"y":{"field":"d","type":"quantitative","scale":{"domain":[0,100],"reverse":true,"nice":false},"axis":null}},
 "layer":[
  {"data":{"name":"tur"},"transform":[{"filter":"datum.p=='13'"}],"mark":{"type":"line","color":"#0000ff","strokeWidth":1.2,"point":{"filled":true,"size":14,"color":"#0000ff","opacity":1}},"encoding":{"x":{"field":"t","type":"quantitative","scale":{"domain":[0,0.5],"nice":false},"axis":null},"order":{"field":"d","type":"quantitative"}}},
  {"data":{"name":"vel"},"transform":[{"filter":"datum.p=='13' && isValid(datum.lo)"}],"mark":{"type":"rule","strokeWidth":1.6},"encoding":{"x":{"field":"lo","type":"quantitative","scale":{"domain":[0,100],"nice":false},"axis":null},"x2":{"field":"hi"},"color":{"condition":{"test":"datum.g==1","value":"#a0a0a0"},"value":"#000000"}}},
  {"data":{"name":"vel"},"transform":[{"filter":"datum.p=='13'"}],"mark":{"type":"line","color":"#444444","strokeWidth":1},"encoding":{"x":{"field":"v","type":"quantitative","scale":{"domain":[0,100],"nice":false},"axis":{"orient":"top","values":[0,50,100],"offset":17,"labelPadding":20,"title":"Flow velocity (cm s⁻¹)","titleX":142,"titleY":-42,"titleBaseline":"alphabetic","titleAlign":"center"}},"order":{"field":"d","type":"quantitative"}}},
  {"data":{"name":"vel"},"transform":[{"filter":"datum.p=='13'"}],"mark":{"type":"point","filled":true,"opacity":1},"encoding":{"x":{"field":"v","type":"quantitative","scale":{"domain":[0,100],"nice":false},"axis":null},"color":{"condition":{"test":"datum.m=='r'","value":"#ff0000"},"value":"#000000"},"size":{"condition":{"test":"datum.m=='r'","value":40},"value":12}}},
  {"data":{"name":"arr"},"transform":[{"filter":"datum.p=='13'"}],"mark":{"type":"text","text":"→","fontSize":16,"fontWeight":"bold","color":"#000"},"encoding":{"x":{"field":"v","type":"quantitative","scale":{"domain":[0,100],"nice":false},"axis":null}}},
  {"data":{"name":"lab"},"transform":[{"filter":"datum.p=='13' && datum.k=='n'"}],"mark":{"type":"text","align":"right","baseline":"alphabetic","fontSize":21,"fontWeight":"bold","color":"#000"},"encoding":{"x":{"field":"v","type":"quantitative","scale":{"domain":[0,100],"nice":false},"axis":null},"text":{"field":"s"}}}
 ],"resolve":{"scale":{"x":"independent"}}},
{"width":122,"height":201,"encoding":{"y":{"field":"d","type":"quantitative","scale":{"domain":[0,100],"reverse":true,"nice":false},"axis":null}},
 "layer":[
  {"data":{"name":"tur"},"transform":[{"filter":"datum.p=='14'"}],"mark":{"type":"line","color":"#0000ff","strokeWidth":1.2,"point":{"filled":true,"size":14,"color":"#0000ff","opacity":1}},"encoding":{"x":{"field":"t","type":"quantitative","scale":{"domain":[0,0.5],"nice":false},"axis":null},"order":{"field":"d","type":"quantitative"}}},
  {"data":{"name":"vel"},"transform":[{"filter":"datum.p=='14' && isValid(datum.lo)"}],"mark":{"type":"rule","strokeWidth":1.6},"encoding":{"x":{"field":"lo","type":"quantitative","scale":{"domain":[0,100],"nice":false},"axis":null},"x2":{"field":"hi"},"color":{"condition":{"test":"datum.g==1","value":"#a0a0a0"},"value":"#000000"}}},
  {"data":{"name":"vel"},"transform":[{"filter":"datum.p=='14'"}],"mark":{"type":"line","color":"#444444","strokeWidth":1},"encoding":{"x":{"field":"v","type":"quantitative","scale":{"domain":[0,100],"nice":false},"axis":{"orient":"top","values":[0,50,100],"offset":17,"labelPadding":20,"title":null}},"order":{"field":"d","type":"quantitative"}}},
  {"data":{"name":"vel"},"transform":[{"filter":"datum.p=='14'"}],"mark":{"type":"point","filled":true,"opacity":1},"encoding":{"x":{"field":"v","type":"quantitative","scale":{"domain":[0,100],"nice":false},"axis":null},"color":{"condition":{"test":"datum.m=='r'","value":"#ff0000"},"value":"#000000"},"size":{"condition":{"test":"datum.m=='r'","value":40},"value":12}}},
  {"data":{"name":"arr"},"transform":[{"filter":"datum.p=='14'"}],"mark":{"type":"text","text":"→","fontSize":16,"fontWeight":"bold","color":"#000"},"encoding":{"x":{"field":"v","type":"quantitative","scale":{"domain":[0,100],"nice":false},"axis":null}}},
  {"data":{"name":"lab"},"transform":[{"filter":"datum.p=='14' && datum.k=='n'"}],"mark":{"type":"text","align":"right","baseline":"alphabetic","fontSize":21,"fontWeight":"bold","color":"#000"},"encoding":{"x":{"field":"v","type":"quantitative","scale":{"domain":[0,100],"nice":false},"axis":null},"text":{"field":"s"}}}
 ],"resolve":{"scale":{"x":"independent"}}},
{"width":122,"height":201,"encoding":{"y":{"field":"d","type":"quantitative","scale":{"domain":[0,100],"reverse":true,"nice":false},"axis":null}},
 "layer":[
  {"data":{"name":"tur"},"transform":[{"filter":"datum.p=='15'"}],"mark":{"type":"line","color":"#0000ff","strokeWidth":1.2,"point":{"filled":true,"size":14,"color":"#0000ff","opacity":1}},"encoding":{"x":{"field":"t","type":"quantitative","scale":{"domain":[0,0.5],"nice":false},"axis":null},"order":{"field":"d","type":"quantitative"}}},
  {"data":{"name":"vel"},"transform":[{"filter":"datum.p=='15' && isValid(datum.lo)"}],"mark":{"type":"rule","strokeWidth":1.6},"encoding":{"x":{"field":"lo","type":"quantitative","scale":{"domain":[0,100],"nice":false},"axis":null},"x2":{"field":"hi"},"color":{"condition":{"test":"datum.g==1","value":"#a0a0a0"},"value":"#000000"}}},
  {"data":{"name":"vel"},"transform":[{"filter":"datum.p=='15'"}],"mark":{"type":"line","color":"#444444","strokeWidth":1},"encoding":{"x":{"field":"v","type":"quantitative","scale":{"domain":[0,100],"nice":false},"axis":{"orient":"top","values":[0,50,100],"offset":17,"labelPadding":20,"title":null}},"order":{"field":"d","type":"quantitative"}}},
  {"data":{"name":"vel"},"transform":[{"filter":"datum.p=='15'"}],"mark":{"type":"point","filled":true,"opacity":1},"encoding":{"x":{"field":"v","type":"quantitative","scale":{"domain":[0,100],"nice":false},"axis":null},"color":{"condition":{"test":"datum.m=='r'","value":"#ff0000"},"value":"#000000"},"size":{"condition":{"test":"datum.m=='r'","value":40},"value":12}}},
  {"data":{"name":"arr"},"transform":[{"filter":"datum.p=='15'"}],"mark":{"type":"text","text":"→","fontSize":16,"fontWeight":"bold","color":"#000"},"encoding":{"x":{"field":"v","type":"quantitative","scale":{"domain":[0,100],"nice":false},"axis":null}}},
  {"data":{"name":"lab"},"transform":[{"filter":"datum.p=='15' && datum.k=='n'"}],"mark":{"type":"text","align":"right","baseline":"alphabetic","fontSize":21,"fontWeight":"bold","color":"#000"},"encoding":{"x":{"field":"v","type":"quantitative","scale":{"domain":[0,100],"nice":false},"axis":null},"text":{"field":"s"}}}
 ],"resolve":{"scale":{"x":"independent"}}},
{"width":122,"height":201,"encoding":{"y":{"field":"d","type":"quantitative","scale":{"domain":[0,100],"reverse":true,"nice":false},"axis":null}},
 "layer":[
  {"data":{"name":"tur"},"transform":[{"filter":"datum.p=='16'"}],"mark":{"type":"line","color":"#0000ff","strokeWidth":1.2,"point":{"filled":true,"size":14,"color":"#0000ff","opacity":1}},"encoding":{"x":{"field":"t","type":"quantitative","scale":{"domain":[0,0.5],"nice":false},"axis":null},"order":{"field":"d","type":"quantitative"}}},
  {"data":{"name":"vel"},"transform":[{"filter":"datum.p=='16' && isValid(datum.lo)"}],"mark":{"type":"rule","strokeWidth":1.6},"encoding":{"x":{"field":"lo","type":"quantitative","scale":{"domain":[0,100],"nice":false},"axis":null},"x2":{"field":"hi"},"color":{"condition":{"test":"datum.g==1","value":"#a0a0a0"},"value":"#000000"}}},
  {"data":{"name":"vel"},"transform":[{"filter":"datum.p=='16'"}],"mark":{"type":"line","color":"#444444","strokeWidth":1},"encoding":{"x":{"field":"v","type":"quantitative","scale":{"domain":[0,100],"nice":false},"axis":{"orient":"top","values":[0,50,100],"offset":17,"labelPadding":20,"title":null}},"order":{"field":"d","type":"quantitative"}}},
  {"data":{"name":"vel"},"transform":[{"filter":"datum.p=='16'"}],"mark":{"type":"point","filled":true,"opacity":1},"encoding":{"x":{"field":"v","type":"quantitative","scale":{"domain":[0,100],"nice":false},"axis":null},"color":{"condition":{"test":"datum.m=='r'","value":"#ff0000"},"value":"#000000"},"size":{"condition":{"test":"datum.m=='r'","value":40},"value":12}}},
  {"data":{"name":"lab"},"transform":[{"filter":"datum.p=='16' && datum.k=='n'"}],"mark":{"type":"text","align":"right","baseline":"alphabetic","fontSize":21,"fontWeight":"bold","color":"#000"},"encoding":{"x":{"field":"v","type":"quantitative","scale":{"domain":[0,100],"nice":false},"axis":null},"text":{"field":"s"}}}
 ],"resolve":{"scale":{"x":"independent"}}},
{"width":122,"height":201,"encoding":{"y":{"field":"d","type":"quantitative","scale":{"domain":[0,100],"reverse":true,"nice":false},"axis":{"values":[0,25,50,75,100],"offset":36,"labelPadding":26,"title":"Depth (cm)","titleX":-50,"titleY":100,"titleAngle":-90,"titleBaseline":"alphabetic","titleAlign":"center"}}},
 "layer":[
  {"data":{"name":"tur"},"transform":[{"filter":"datum.p=='21'"}],"mark":{"type":"line","color":"#0000ff","strokeWidth":1.2,"point":{"filled":true,"size":14,"color":"#0000ff","opacity":1}},"encoding":{"x":{"field":"t","type":"quantitative","scale":{"domain":[0,0.5],"nice":false},"axis":null},"order":{"field":"d","type":"quantitative"}}},
  {"data":{"name":"vel"},"transform":[{"filter":"datum.p=='21' && isValid(datum.lo)"}],"mark":{"type":"rule","strokeWidth":1.6},"encoding":{"x":{"field":"lo","type":"quantitative","scale":{"domain":[0,100],"nice":false},"axis":null},"x2":{"field":"hi"},"color":{"condition":{"test":"datum.g==1","value":"#a0a0a0"},"value":"#000000"}}},
  {"data":{"name":"vel"},"transform":[{"filter":"datum.p=='21'"}],"mark":{"type":"line","color":"#444444","strokeWidth":1},"encoding":{"x":{"field":"v","type":"quantitative","scale":{"domain":[0,100],"nice":false},"axis":null},"order":{"field":"d","type":"quantitative"}}},
  {"data":{"name":"vel"},"transform":[{"filter":"datum.p=='21'"}],"mark":{"type":"point","filled":true,"opacity":1},"encoding":{"x":{"field":"v","type":"quantitative","scale":{"domain":[0,100],"nice":false},"axis":null},"color":{"condition":{"test":"datum.m=='r'","value":"#ff0000"},"value":"#000000"},"size":{"condition":{"test":"datum.m=='r'","value":40},"value":12}}},
  {"data":{"name":"lab"},"transform":[{"filter":"datum.p=='21' && datum.k=='h'"}],"mark":{"type":"text","align":"center","baseline":"alphabetic","fontSize":16,"fontWeight":"bold","color":"#000"},"encoding":{"x":{"field":"v","type":"quantitative","scale":{"domain":[0,100],"nice":false},"axis":null},"text":{"field":"s"}}}
 ],"resolve":{"scale":{"x":"independent"}}},
{"width":122,"height":201,"encoding":{"y":{"field":"d","type":"quantitative","scale":{"domain":[0,100],"reverse":true,"nice":false},"axis":null}},
 "layer":[
  {"data":{"name":"tur"},"transform":[{"filter":"datum.p=='22'"}],"mark":{"type":"line","color":"#0000ff","strokeWidth":1.2,"point":{"filled":true,"size":14,"color":"#0000ff","opacity":1}},"encoding":{"x":{"field":"t","type":"quantitative","scale":{"domain":[0,0.5],"nice":false},"axis":null},"order":{"field":"d","type":"quantitative"}}},
  {"data":{"name":"vel"},"transform":[{"filter":"datum.p=='22' && isValid(datum.lo)"}],"mark":{"type":"rule","strokeWidth":1.6},"encoding":{"x":{"field":"lo","type":"quantitative","scale":{"domain":[0,100],"nice":false},"axis":null},"x2":{"field":"hi"},"color":{"condition":{"test":"datum.g==1","value":"#a0a0a0"},"value":"#000000"}}},
  {"data":{"name":"vel"},"transform":[{"filter":"datum.p=='22'"}],"mark":{"type":"line","color":"#444444","strokeWidth":1},"encoding":{"x":{"field":"v","type":"quantitative","scale":{"domain":[0,100],"nice":false},"axis":null},"order":{"field":"d","type":"quantitative"}}},
  {"data":{"name":"vel"},"transform":[{"filter":"datum.p=='22'"}],"mark":{"type":"point","filled":true,"opacity":1},"encoding":{"x":{"field":"v","type":"quantitative","scale":{"domain":[0,100],"nice":false},"axis":null},"color":{"condition":{"test":"datum.m=='r'","value":"#ff0000"},"value":"#000000"},"size":{"condition":{"test":"datum.m=='r'","value":40},"value":12}}},
  {"data":{"name":"arr"},"transform":[{"filter":"datum.p=='22'"}],"mark":{"type":"text","text":"→","fontSize":16,"fontWeight":"bold","color":"#000"},"encoding":{"x":{"field":"v","type":"quantitative","scale":{"domain":[0,100],"nice":false},"axis":null}}},
  {"data":{"name":"lab"},"transform":[{"filter":"datum.p=='22' && datum.k=='q'"}],"mark":{"type":"text","align":"center","baseline":"middle","fontSize":11,"fontWeight":"bold","color":"#000"},"encoding":{"x":{"field":"v","type":"quantitative","scale":{"domain":[0,100],"nice":false},"axis":null},"text":{"field":"s"}}}
 ],"resolve":{"scale":{"x":"independent"}}},
{"width":122,"height":201,"encoding":{"y":{"field":"d","type":"quantitative","scale":{"domain":[0,100],"reverse":true,"nice":false},"axis":null}},
 "layer":[
  {"data":{"name":"tur"},"transform":[{"filter":"datum.p=='23'"}],"mark":{"type":"line","color":"#0000ff","strokeWidth":1.2,"point":{"filled":true,"size":14,"color":"#0000ff","opacity":1}},"encoding":{"x":{"field":"t","type":"quantitative","scale":{"domain":[0,0.5],"nice":false},"axis":null},"order":{"field":"d","type":"quantitative"}}},
  {"data":{"name":"vel"},"transform":[{"filter":"datum.p=='23' && isValid(datum.lo)"}],"mark":{"type":"rule","strokeWidth":1.6},"encoding":{"x":{"field":"lo","type":"quantitative","scale":{"domain":[0,100],"nice":false},"axis":null},"x2":{"field":"hi"},"color":{"condition":{"test":"datum.g==1","value":"#a0a0a0"},"value":"#000000"}}},
  {"data":{"name":"vel"},"transform":[{"filter":"datum.p=='23'"}],"mark":{"type":"line","color":"#444444","strokeWidth":1},"encoding":{"x":{"field":"v","type":"quantitative","scale":{"domain":[0,100],"nice":false},"axis":null},"order":{"field":"d","type":"quantitative"}}},
  {"data":{"name":"vel"},"transform":[{"filter":"datum.p=='23'"}],"mark":{"type":"point","filled":true,"opacity":1},"encoding":{"x":{"field":"v","type":"quantitative","scale":{"domain":[0,100],"nice":false},"axis":null},"color":{"condition":{"test":"datum.m=='r'","value":"#ff0000"},"value":"#000000"},"size":{"condition":{"test":"datum.m=='r'","value":40},"value":12}}},
  {"data":{"name":"arr"},"transform":[{"filter":"datum.p=='23'"}],"mark":{"type":"text","text":"→","fontSize":16,"fontWeight":"bold","color":"#000"},"encoding":{"x":{"field":"v","type":"quantitative","scale":{"domain":[0,100],"nice":false},"axis":null}}}
 ],"resolve":{"scale":{"x":"independent"}}},
{"width":122,"height":201,"encoding":{"y":{"field":"d","type":"quantitative","scale":{"domain":[0,100],"reverse":true,"nice":false},"axis":null}},
 "layer":[
  {"data":{"name":"tur"},"transform":[{"filter":"datum.p=='24'"}],"mark":{"type":"line","color":"#0000ff","strokeWidth":1.2,"point":{"filled":true,"size":14,"color":"#0000ff","opacity":1}},"encoding":{"x":{"field":"t","type":"quantitative","scale":{"domain":[0,0.5],"nice":false},"axis":null},"order":{"field":"d","type":"quantitative"}}},
  {"data":{"name":"vel"},"transform":[{"filter":"datum.p=='24' && isValid(datum.lo)"}],"mark":{"type":"rule","strokeWidth":1.6},"encoding":{"x":{"field":"lo","type":"quantitative","scale":{"domain":[0,100],"nice":false},"axis":null},"x2":{"field":"hi"},"color":{"condition":{"test":"datum.g==1","value":"#a0a0a0"},"value":"#000000"}}},
  {"data":{"name":"vel"},"transform":[{"filter":"datum.p=='24'"}],"mark":{"type":"line","color":"#444444","strokeWidth":1},"encoding":{"x":{"field":"v","type":"quantitative","scale":{"domain":[0,100],"nice":false},"axis":null},"order":{"field":"d","type":"quantitative"}}},
  {"data":{"name":"vel"},"transform":[{"filter":"datum.p=='24'"}],"mark":{"type":"point","filled":true,"opacity":1},"encoding":{"x":{"field":"v","type":"quantitative","scale":{"domain":[0,100],"nice":false},"axis":null},"color":{"condition":{"test":"datum.m=='r'","value":"#ff0000"},"value":"#000000"},"size":{"condition":{"test":"datum.m=='r'","value":40},"value":12}}},
  {"data":{"name":"arr"},"transform":[{"filter":"datum.p=='24'"}],"mark":{"type":"text","text":"→","fontSize":16,"fontWeight":"bold","color":"#000"},"encoding":{"x":{"field":"v","type":"quantitative","scale":{"domain":[0,100],"nice":false},"axis":null}}}
 ],"resolve":{"scale":{"x":"independent"}}},
{"width":122,"height":201,"encoding":{"y":{"field":"d","type":"quantitative","scale":{"domain":[0,100],"reverse":true,"nice":false},"axis":null}},
 "layer":[
  {"data":{"name":"tur"},"transform":[{"filter":"datum.p=='25'"}],"mark":{"type":"line","color":"#0000ff","strokeWidth":1.2,"point":{"filled":true,"size":14,"color":"#0000ff","opacity":1}},"encoding":{"x":{"field":"t","type":"quantitative","scale":{"domain":[0,0.5],"nice":false},"axis":null},"order":{"field":"d","type":"quantitative"}}},
  {"data":{"name":"vel"},"transform":[{"filter":"datum.p=='25' && isValid(datum.lo)"}],"mark":{"type":"rule","strokeWidth":1.6},"encoding":{"x":{"field":"lo","type":"quantitative","scale":{"domain":[0,100],"nice":false},"axis":null},"x2":{"field":"hi"},"color":{"condition":{"test":"datum.g==1","value":"#a0a0a0"},"value":"#000000"}}},
  {"data":{"name":"vel"},"transform":[{"filter":"datum.p=='25'"}],"mark":{"type":"line","color":"#444444","strokeWidth":1},"encoding":{"x":{"field":"v","type":"quantitative","scale":{"domain":[0,100],"nice":false},"axis":null},"order":{"field":"d","type":"quantitative"}}},
  {"data":{"name":"vel"},"transform":[{"filter":"datum.p=='25'"}],"mark":{"type":"point","filled":true,"opacity":1},"encoding":{"x":{"field":"v","type":"quantitative","scale":{"domain":[0,100],"nice":false},"axis":null},"color":{"condition":{"test":"datum.m=='r'","value":"#ff0000"},"value":"#000000"},"size":{"condition":{"test":"datum.m=='r'","value":40},"value":12}}},
  {"data":{"name":"arr"},"transform":[{"filter":"datum.p=='25'"}],"mark":{"type":"text","text":"→","fontSize":16,"fontWeight":"bold","color":"#000"},"encoding":{"x":{"field":"v","type":"quantitative","scale":{"domain":[0,100],"nice":false},"axis":null}}}
 ],"resolve":{"scale":{"x":"independent"}}},
{"width":122,"height":201,"encoding":{"y":{"field":"d","type":"quantitative","scale":{"domain":[0,100],"reverse":true,"nice":false},"axis":null}},
 "layer":[
  {"data":{"name":"tur"},"transform":[{"filter":"datum.p=='26'"}],"mark":{"type":"line","color":"#0000ff","strokeWidth":1.2,"point":{"filled":true,"size":14,"color":"#0000ff","opacity":1}},"encoding":{"x":{"field":"t","type":"quantitative","scale":{"domain":[0,0.5],"nice":false},"axis":null},"order":{"field":"d","type":"quantitative"}}},
  {"data":{"name":"vel"},"transform":[{"filter":"datum.p=='26' && isValid(datum.lo)"}],"mark":{"type":"rule","strokeWidth":1.6},"encoding":{"x":{"field":"lo","type":"quantitative","scale":{"domain":[0,100],"nice":false},"axis":null},"x2":{"field":"hi"},"color":{"condition":{"test":"datum.g==1","value":"#a0a0a0"},"value":"#000000"}}},
  {"data":{"name":"vel"},"transform":[{"filter":"datum.p=='26'"}],"mark":{"type":"line","color":"#444444","strokeWidth":1},"encoding":{"x":{"field":"v","type":"quantitative","scale":{"domain":[0,100],"nice":false},"axis":null},"order":{"field":"d","type":"quantitative"}}},
  {"data":{"name":"vel"},"transform":[{"filter":"datum.p=='26'"}],"mark":{"type":"point","filled":true,"opacity":1},"encoding":{"x":{"field":"v","type":"quantitative","scale":{"domain":[0,100],"nice":false},"axis":null},"color":{"condition":{"test":"datum.m=='r'","value":"#ff0000"},"value":"#000000"},"size":{"condition":{"test":"datum.m=='r'","value":40},"value":12}}}
 ],"resolve":{"scale":{"x":"independent"}}},
{"width":122,"height":201,"encoding":{"y":{"field":"d","type":"quantitative","scale":{"domain":[0,100],"reverse":true,"nice":false},"axis":{"values":[0,25,50,75,100],"offset":36,"labelPadding":26,"title":null}}},
 "layer":[
  {"data":{"name":"tur"},"transform":[{"filter":"datum.p=='31'"}],"mark":{"type":"line","color":"#0000ff","strokeWidth":1.2,"point":{"filled":true,"size":14,"color":"#0000ff","opacity":1}},"encoding":{"x":{"field":"t","type":"quantitative","scale":{"domain":[0,0.5],"nice":false},"axis":{"orient":"bottom","values":[0,0.25,0.5],"offset":-17,"labelPadding":20,"labelExpr":"datum.value == 0 ? '0' : format(datum.value, '.2f')","title":null}},"order":{"field":"d","type":"quantitative"}}},
  {"data":{"name":"vel"},"transform":[{"filter":"datum.p=='31' && isValid(datum.lo)"}],"mark":{"type":"rule","strokeWidth":1.6},"encoding":{"x":{"field":"lo","type":"quantitative","scale":{"domain":[0,100],"nice":false},"axis":null},"x2":{"field":"hi"},"color":{"condition":{"test":"datum.g==1","value":"#a0a0a0"},"value":"#000000"}}},
  {"data":{"name":"vel"},"transform":[{"filter":"datum.p=='31'"}],"mark":{"type":"line","color":"#444444","strokeWidth":1},"encoding":{"x":{"field":"v","type":"quantitative","scale":{"domain":[0,100],"nice":false},"axis":null},"order":{"field":"d","type":"quantitative"}}},
  {"data":{"name":"vel"},"transform":[{"filter":"datum.p=='31'"}],"mark":{"type":"point","filled":true,"opacity":1},"encoding":{"x":{"field":"v","type":"quantitative","scale":{"domain":[0,100],"nice":false},"axis":null},"color":{"condition":{"test":"datum.m=='r'","value":"#ff0000"},"value":"#000000"},"size":{"condition":{"test":"datum.m=='r'","value":40},"value":12}}},
  {"data":{"name":"lab"},"transform":[{"filter":"datum.p=='31' && datum.k=='h'"}],"mark":{"type":"text","align":"center","baseline":"alphabetic","fontSize":16,"fontWeight":"bold","color":"#000"},"encoding":{"x":{"field":"v","type":"quantitative","scale":{"domain":[0,100],"nice":false},"axis":null},"text":{"field":"s"}}}
 ],"resolve":{"scale":{"x":"independent"}}},
{"width":122,"height":201,"encoding":{"y":{"field":"d","type":"quantitative","scale":{"domain":[0,100],"reverse":true,"nice":false},"axis":null}},
 "layer":[
  {"data":{"name":"tur"},"transform":[{"filter":"datum.p=='32'"}],"mark":{"type":"line","color":"#0000ff","strokeWidth":1.2,"point":{"filled":true,"size":14,"color":"#0000ff","opacity":1}},"encoding":{"x":{"field":"t","type":"quantitative","scale":{"domain":[0,0.5],"nice":false},"axis":{"orient":"bottom","values":[0,0.25,0.5],"offset":-17,"labelPadding":20,"labelExpr":"datum.value == 0 ? '0' : format(datum.value, '.2f')","title":null}},"order":{"field":"d","type":"quantitative"}}},
  {"data":{"name":"vel"},"transform":[{"filter":"datum.p=='32' && isValid(datum.lo)"}],"mark":{"type":"rule","strokeWidth":1.6},"encoding":{"x":{"field":"lo","type":"quantitative","scale":{"domain":[0,100],"nice":false},"axis":null},"x2":{"field":"hi"},"color":{"condition":{"test":"datum.g==1","value":"#a0a0a0"},"value":"#000000"}}},
  {"data":{"name":"vel"},"transform":[{"filter":"datum.p=='32'"}],"mark":{"type":"line","color":"#444444","strokeWidth":1},"encoding":{"x":{"field":"v","type":"quantitative","scale":{"domain":[0,100],"nice":false},"axis":null},"order":{"field":"d","type":"quantitative"}}},
  {"data":{"name":"vel"},"transform":[{"filter":"datum.p=='32'"}],"mark":{"type":"point","filled":true,"opacity":1},"encoding":{"x":{"field":"v","type":"quantitative","scale":{"domain":[0,100],"nice":false},"axis":null},"color":{"condition":{"test":"datum.m=='r'","value":"#ff0000"},"value":"#000000"},"size":{"condition":{"test":"datum.m=='r'","value":40},"value":12}}},
  {"data":{"name":"arr"},"transform":[{"filter":"datum.p=='32'"}],"mark":{"type":"text","text":"→","fontSize":16,"fontWeight":"bold","color":"#000"},"encoding":{"x":{"field":"v","type":"quantitative","scale":{"domain":[0,100],"nice":false},"axis":null}}}
 ],"resolve":{"scale":{"x":"independent"}}},
{"width":122,"height":201,"encoding":{"y":{"field":"d","type":"quantitative","scale":{"domain":[0,100],"reverse":true,"nice":false},"axis":null}},
 "layer":[
  {"data":{"name":"tur"},"transform":[{"filter":"datum.p=='33'"}],"mark":{"type":"line","color":"#0000ff","strokeWidth":1.2,"point":{"filled":true,"size":14,"color":"#0000ff","opacity":1}},"encoding":{"x":{"field":"t","type":"quantitative","scale":{"domain":[0,0.5],"nice":false},"axis":{"orient":"bottom","values":[0,0.25,0.5],"offset":-17,"labelPadding":20,"labelExpr":"datum.value == 0 ? '0' : format(datum.value, '.2f')","title":"Relative turbulence intensity","titleX":146,"titleY":56,"titleBaseline":"alphabetic","titleAlign":"center"}},"order":{"field":"d","type":"quantitative"}}},
  {"data":{"name":"vel"},"transform":[{"filter":"datum.p=='33' && isValid(datum.lo)"}],"mark":{"type":"rule","strokeWidth":1.6},"encoding":{"x":{"field":"lo","type":"quantitative","scale":{"domain":[0,100],"nice":false},"axis":null},"x2":{"field":"hi"},"color":{"condition":{"test":"datum.g==1","value":"#a0a0a0"},"value":"#000000"}}},
  {"data":{"name":"vel"},"transform":[{"filter":"datum.p=='33'"}],"mark":{"type":"line","color":"#444444","strokeWidth":1},"encoding":{"x":{"field":"v","type":"quantitative","scale":{"domain":[0,100],"nice":false},"axis":null},"order":{"field":"d","type":"quantitative"}}},
  {"data":{"name":"vel"},"transform":[{"filter":"datum.p=='33'"}],"mark":{"type":"point","filled":true,"opacity":1},"encoding":{"x":{"field":"v","type":"quantitative","scale":{"domain":[0,100],"nice":false},"axis":null},"color":{"condition":{"test":"datum.m=='r'","value":"#ff0000"},"value":"#000000"},"size":{"condition":{"test":"datum.m=='r'","value":40},"value":12}}},
  {"data":{"name":"arr"},"transform":[{"filter":"datum.p=='33'"}],"mark":{"type":"text","text":"→","fontSize":16,"fontWeight":"bold","color":"#000"},"encoding":{"x":{"field":"v","type":"quantitative","scale":{"domain":[0,100],"nice":false},"axis":null}}}
 ],"resolve":{"scale":{"x":"independent"}}},
{"width":122,"height":201,"encoding":{"y":{"field":"d","type":"quantitative","scale":{"domain":[0,100],"reverse":true,"nice":false},"axis":null}},
 "layer":[
  {"data":{"name":"tur"},"transform":[{"filter":"datum.p=='34'"}],"mark":{"type":"line","color":"#0000ff","strokeWidth":1.2,"point":{"filled":true,"size":14,"color":"#0000ff","opacity":1}},"encoding":{"x":{"field":"t","type":"quantitative","scale":{"domain":[0,0.5],"nice":false},"axis":{"orient":"bottom","values":[0,0.25,0.5],"offset":-17,"labelPadding":20,"labelExpr":"datum.value == 0 ? '0' : format(datum.value, '.2f')","title":null}},"order":{"field":"d","type":"quantitative"}}},
  {"data":{"name":"vel"},"transform":[{"filter":"datum.p=='34' && isValid(datum.lo)"}],"mark":{"type":"rule","strokeWidth":1.6},"encoding":{"x":{"field":"lo","type":"quantitative","scale":{"domain":[0,100],"nice":false},"axis":null},"x2":{"field":"hi"},"color":{"condition":{"test":"datum.g==1","value":"#a0a0a0"},"value":"#000000"}}},
  {"data":{"name":"vel"},"transform":[{"filter":"datum.p=='34'"}],"mark":{"type":"line","color":"#444444","strokeWidth":1},"encoding":{"x":{"field":"v","type":"quantitative","scale":{"domain":[0,100],"nice":false},"axis":null},"order":{"field":"d","type":"quantitative"}}},
  {"data":{"name":"vel"},"transform":[{"filter":"datum.p=='34'"}],"mark":{"type":"point","filled":true,"opacity":1},"encoding":{"x":{"field":"v","type":"quantitative","scale":{"domain":[0,100],"nice":false},"axis":null},"color":{"condition":{"test":"datum.m=='r'","value":"#ff0000"},"value":"#000000"},"size":{"condition":{"test":"datum.m=='r'","value":40},"value":12}}},
  {"data":{"name":"arr"},"transform":[{"filter":"datum.p=='34'"}],"mark":{"type":"text","text":"→","fontSize":16,"fontWeight":"bold","color":"#000"},"encoding":{"x":{"field":"v","type":"quantitative","scale":{"domain":[0,100],"nice":false},"axis":null}}}
 ],"resolve":{"scale":{"x":"independent"}}},
{"width":122,"height":201,"encoding":{"y":{"field":"d","type":"quantitative","scale":{"domain":[0,100],"reverse":true,"nice":false},"axis":null}},
 "layer":[
  {"data":{"name":"tur"},"transform":[{"filter":"datum.p=='35'"}],"mark":{"type":"line","color":"#0000ff","strokeWidth":1.2,"point":{"filled":true,"size":14,"color":"#0000ff","opacity":1}},"encoding":{"x":{"field":"t","type":"quantitative","scale":{"domain":[0,0.5],"nice":false},"axis":{"orient":"bottom","values":[0,0.25,0.5],"offset":-17,"labelPadding":20,"labelExpr":"datum.value == 0 ? '0' : format(datum.value, '.2f')","title":null}},"order":{"field":"d","type":"quantitative"}}},
  {"data":{"name":"vel"},"transform":[{"filter":"datum.p=='35' && isValid(datum.lo)"}],"mark":{"type":"rule","strokeWidth":1.6},"encoding":{"x":{"field":"lo","type":"quantitative","scale":{"domain":[0,100],"nice":false},"axis":null},"x2":{"field":"hi"},"color":{"condition":{"test":"datum.g==1","value":"#a0a0a0"},"value":"#000000"}}},
  {"data":{"name":"vel"},"transform":[{"filter":"datum.p=='35'"}],"mark":{"type":"line","color":"#444444","strokeWidth":1},"encoding":{"x":{"field":"v","type":"quantitative","scale":{"domain":[0,100],"nice":false},"axis":null},"order":{"field":"d","type":"quantitative"}}},
  {"data":{"name":"vel"},"transform":[{"filter":"datum.p=='35'"}],"mark":{"type":"point","filled":true,"opacity":1},"encoding":{"x":{"field":"v","type":"quantitative","scale":{"domain":[0,100],"nice":false},"axis":null},"color":{"condition":{"test":"datum.m=='r'","value":"#ff0000"},"value":"#000000"},"size":{"condition":{"test":"datum.m=='r'","value":40},"value":12}}},
  {"data":{"name":"arr"},"transform":[{"filter":"datum.p=='35'"}],"mark":{"type":"text","text":"→","fontSize":16,"fontWeight":"bold","color":"#000"},"encoding":{"x":{"field":"v","type":"quantitative","scale":{"domain":[0,100],"nice":false},"axis":null}}}
 ],"resolve":{"scale":{"x":"independent"}}},
{"width":122,"height":201,"encoding":{"y":{"field":"d","type":"quantitative","scale":{"domain":[0,100],"reverse":true,"nice":false},"axis":null}},
 "layer":[
  {"data":{"name":"tur"},"transform":[{"filter":"datum.p=='36'"}],"mark":{"type":"line","color":"#0000ff","strokeWidth":1.2,"point":{"filled":true,"size":14,"color":"#0000ff","opacity":1}},"encoding":{"x":{"field":"t","type":"quantitative","scale":{"domain":[0,0.5],"nice":false},"axis":{"orient":"bottom","values":[0,0.25,0.5],"offset":-17,"labelPadding":20,"labelExpr":"datum.value == 0 ? '0' : format(datum.value, '.2f')","title":null}},"order":{"field":"d","type":"quantitative"}}},
  {"data":{"name":"vel"},"transform":[{"filter":"datum.p=='36' && isValid(datum.lo)"}],"mark":{"type":"rule","strokeWidth":1.6},"encoding":{"x":{"field":"lo","type":"quantitative","scale":{"domain":[0,100],"nice":false},"axis":null},"x2":{"field":"hi"},"color":{"condition":{"test":"datum.g==1","value":"#a0a0a0"},"value":"#000000"}}},
  {"data":{"name":"vel"},"transform":[{"filter":"datum.p=='36'"}],"mark":{"type":"line","color":"#444444","strokeWidth":1},"encoding":{"x":{"field":"v","type":"quantitative","scale":{"domain":[0,100],"nice":false},"axis":null},"order":{"field":"d","type":"quantitative"}}},
  {"data":{"name":"vel"},"transform":[{"filter":"datum.p=='36'"}],"mark":{"type":"point","filled":true,"opacity":1},"encoding":{"x":{"field":"v","type":"quantitative","scale":{"domain":[0,100],"nice":false},"axis":null},"color":{"condition":{"test":"datum.m=='r'","value":"#ff0000"},"value":"#000000"},"size":{"condition":{"test":"datum.m=='r'","value":40},"value":12}}}
 ],"resolve":{"scale":{"x":"independent"}}}
]
}
